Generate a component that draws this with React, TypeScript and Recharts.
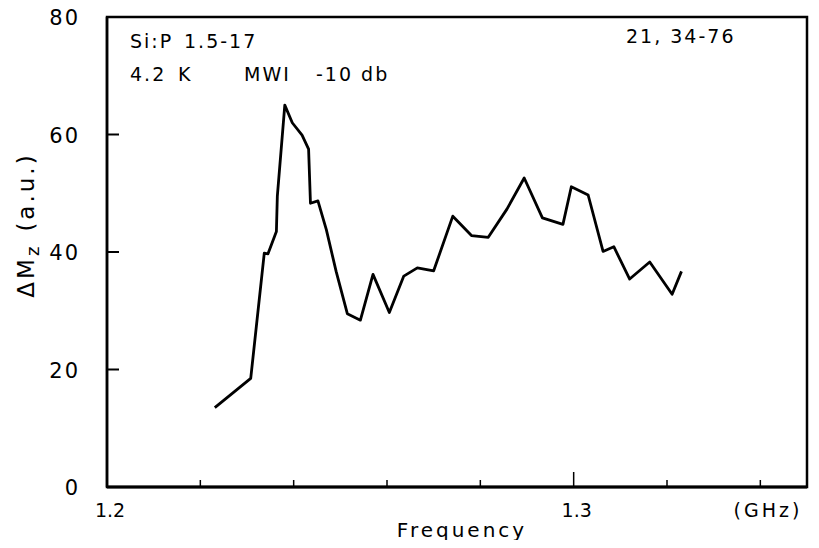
import { LineChart, Line, XAxis, YAxis, ReferenceArea } from 'recharts'

// frequency (GHz)
const freq = [
  1.2231, 1.2308, 1.2337, 1.2345, 1.2363, 1.2365, 1.2381, 1.2397, 1.2418, 1.2432,
  1.2436, 1.2452, 1.247, 1.2491, 1.2515, 1.2543, 1.257, 1.2605, 1.2636, 1.2665,
  1.27, 1.2741, 1.2781, 1.2817, 1.2857, 1.2894, 1.2933, 1.2977, 1.2995, 1.3031,
  1.3063, 1.3086, 1.312, 1.3163, 1.3211, 1.3231,
]
// ΔMz (a.u.)
const dMz = [
  13.5, 18.5, 39.8, 39.7, 43.5, 49.5, 65.0, 62.0, 59.9, 57.5,
  48.3, 48.7, 43.8, 36.7, 29.5, 28.4, 36.2, 29.7, 35.9, 37.3,
  36.8, 46.1, 42.8, 42.5, 47.3, 52.6, 45.8, 44.7, 51.1, 49.7,
  40.1, 40.9, 35.4, 38.3, 32.8, 36.7,
]
const xTicks = [1.2, 1.22, 1.24, 1.26, 1.28, 1.3, 1.32, 1.34]
const xLabels = ['1.2', '1.3']
const yTicks = [0, 20, 40, 60, 80]

const data = freq.map((f, i) => ({ f, v: dMz[i] }))

const FONT = '"DejaVu Sans", sans-serif'

function XTick(props: any) {
  const { x, y, payload } = props
  const val = payload.value
  const label = xLabels.find((l) => Math.abs(Number(l) - val) < 1e-6)
  const len = Math.abs(val - 1.3) < 1e-6 ? 15 : 7
  return (
    <g>
      {val > 1.201 && <line x1={x} y1={y} x2={x} y2={y - len} stroke="#000" strokeWidth={1.5} />}
      {label && (
        <text x={x + 3} y={y + 23} textAnchor="middle" dominantBaseline="central"
          fontFamily={FONT} fontSize={19} fill="#000">
          {label}
        </text>
      )}
    </g>
  )
}

function YTick(props: any) {
  const { x, y, payload } = props
  const val = payload.value
  const inner = val > 0 && val < 80
  return (
    <g>
      {inner && <line x1={x} y1={y} x2={x + 12} y2={y} stroke="#000" strokeWidth={2} />}
      <text x={x - 27} y={y + 1} textAnchor="end" dominantBaseline="central"
        fontFamily={FONT} fontSize={21} letterSpacing={2} fill="#000">
        {val}
      </text>
    </g>
  )
}

export default function App() {
  return (
    <div style={{ width: 819, height: 548, margin: -8, background: '#fff' }}>
      <LineChart width={819} height={548} data={data}
        margin={{ top: 17, right: 12, bottom: 0, left: 0 }}>
        <XAxis dataKey="f" type="number" domain={[1.2, 1.35]} ticks={xTicks}
          height={61} tickSize={0} tickMargin={0} tick={<XTick />}
          axisLine={{ stroke: '#000', strokeWidth: 3 }} tickLine={false} allowDataOverflow />
        <YAxis type="number" domain={[0, 80]} ticks={yTicks} width={107}
          tickSize={0} tickMargin={0} tick={<YTick />} tickLine={false}
          axisLine={{ stroke: '#000', strokeWidth: 2.5 }} />
        <ReferenceArea x1={1.2} x2={1.35} y1={0} y2={80} fill="none" fillOpacity={0}
          stroke="#000" strokeWidth={2.5} ifOverflow="visible" />
        <Line dataKey="v" type="linear" stroke="#000" strokeWidth={2.8}
          dot={false} isAnimationActive={false} strokeLinejoin="round" />

        <text fontFamily={FONT} fontSize={19} letterSpacing={2} fill="#000">
          <tspan x={130} y={48}>Si:P</tspan>
          <tspan x={184} y={48}>1.5-17</tspan>
          <tspan x={130} y={81}>4.2</tspan>
          <tspan x={178} y={81}>K</tspan>
          <tspan x={244} y={81}>MWI</tspan>
          <tspan x={316} y={81}>-10 db</tspan>
        </text>
        <text x={626} y={43} fontFamily={FONT} fontSize={19} letterSpacing={2} fill="#000">
          21, 34-76
        </text>
        <text x={768} y={517} textAnchor="middle" fontFamily={FONT} fontSize={19}
          letterSpacing={3} fill="#000">(GHz)</text>
        <text x={462} y={537} textAnchor="middle" fontFamily={FONT} fontSize={20}
          letterSpacing={3} fill="#000">Frequency</text>
        <text transform="translate(34,225) rotate(-90)" textAnchor="middle" fontFamily={FONT}
          fontSize={23} letterSpacing={3} fill="#000">
          ΔM<tspan dy={5} fontSize={18}>z</tspan><tspan dy={-5} dx={12}>(a.u.)</tspan>
        </text>
      </LineChart>
    </div>
  )
}
